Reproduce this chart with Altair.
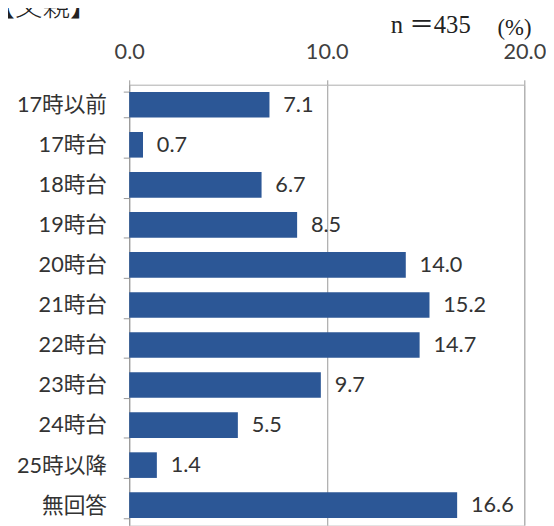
import altair as alt
import pandas as pd

categories = ["17時以前", "17時台", "18時台", "19時台", "20時台", "21時台",
              "22時台", "23時台", "24時台", "25時以降", "無回答"]
values = [7.1, 0.7, 6.7, 8.5, 14.0, 15.2, 14.7, 9.7, 5.5, 1.4, 16.6]
x_ticks = [0, 10, 20]

df = pd.DataFrame({"cat": categories, "val": values})
one = pd.DataFrame({"a": [0]})

FONT = "Lato, Noto Sans CJK JP, sans-serif"
BAR = "#2C5796"

x = alt.X("val:Q", scale=alt.Scale(domain=[0, 20], nice=False),
          axis=alt.Axis(orient="top", values=x_ticks, format=".1f", title=None,
                        labelFontSize=22, labelFont=FONT, labelColor="#404040",
                        labelPadding=17, tickSize=5, tickColor="#999999",
                        domainColor="#bbbbbb", grid=True, gridColor="#999999",
                        labelFlush=False))
y = alt.Y("cat:N", sort=categories,
          scale=alt.Scale(paddingInner=0.36, paddingOuter=0.18),
          axis=alt.Axis(title=None, labelFontSize=22, labelFont=FONT,
                        labelColor="#333333", labelPadding=17, tickSize=6,
                        tickBand="extent", tickColor="#999999",
                        domainColor="#999999"))

bars = alt.Chart(df).mark_bar(color=BAR).encode(x=x, y=y)
labels = alt.Chart(df).mark_text(align="left", dx=14, fontSize=22, font=FONT,
                                 color="#333333").encode(
    x="val:Q", y=alt.Y("cat:N", sort=categories), text=alt.Text("val:Q", format=".1f"))

title = alt.Chart(one).mark_text(align="left", baseline="alphabetic", fontSize=28,
                                 font="Noto Sans CJK JP", fontWeight=300, color="#222222").encode(
    x=alt.value(-144), y=alt.value(-70), text=alt.value("【父親】"))
ntext = alt.Chart(one).mark_text(align="center", baseline="alphabetic", fontSize=25,
                                 font="Liberation Serif, Noto Sans CJK JP", color="#222222").encode(
    x=alt.value(306), y=alt.value(-53), text=alt.value("n ＝435"))
pct = alt.Chart(one).mark_text(align="center", baseline="alphabetic", fontSize=23,
                               font="Liberation Serif", color="#222222").encode(
    x=alt.value(391), y=alt.value(-50), text=alt.value("(%)"))

chart = alt.layer(bars, labels, title, ntext, pct).properties(
    width=401, height=447,
    autosize=alt.AutoSizeParams(type="none"),
    padding={"left": 123, "top": 74, "right": 22, "bottom": 0},
).configure_view(stroke=None).configure(background="white")

chart.save("out.html", embed_options={"renderer": "svg", "actions": False})
